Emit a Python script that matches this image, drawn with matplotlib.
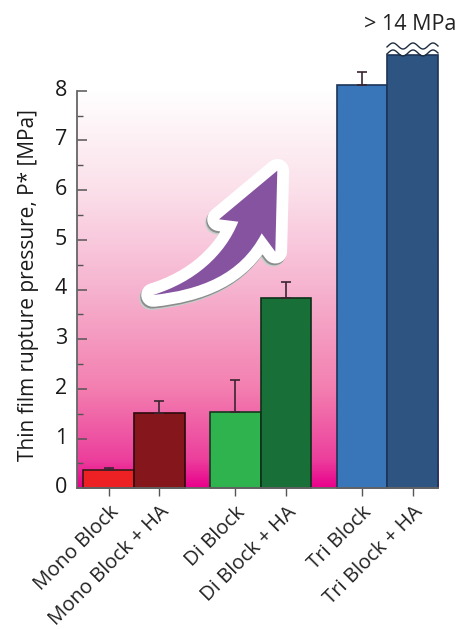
import numpy as np
import matplotlib
matplotlib.use("Agg")
import matplotlib.pyplot as plt
from matplotlib.colors import LinearSegmentedColormap
from matplotlib.patches import PathPatch
from matplotlib.path import Path
from matplotlib.transforms import Affine2D, ScaledTranslation

labels = ["Mono Block", "Mono Block + HA", "Di Block", "Di Block + HA", "Tri Block", "Tri Block + HA"]
positions = [0, 1, 2.5, 3.5, 5, 6]
values = [0.36, 1.52, 1.53, 3.82, 8.12, 8.72]
errors = [0.05, 0.23, 0.65, 0.34, 0.25, 0]
colors = ["#ed2024", "#84161c", "#2fb34f", "#187038", "#3875b9", "#2e5582"]
edges = ["#3a1a1a", "#2a0a0a", "#123a1e", "#0c3018", "#1c3558", "#1c3558"]

plt.rcParams["font.family"] = ["Open Sans", "DejaVu Sans"]
W, H = 458, 629
fig = plt.figure(figsize=(W / 100, H / 100), dpi=100)
ax = fig.add_axes([76.7 / W, 1 - 488.3 / H, (438 - 76.7) / W, (488.3 - 90.7) / H])

# background gradient, white at the top, magenta at the bottom
cmap = LinearSegmentedColormap.from_list("fade", [
    (0, "#e9008c"), (0.07, "#ec3f9c"), (0.25, "#f37fb0"),
    (0.5, "#f6b3cf"), (0.75, "#fbe0ea"), (1, "#ffffff")])
grad = np.linspace(1, 0, 256).reshape(-1, 1)
ax.imshow(grad, aspect="auto", cmap=cmap, extent=[-0.63, 6.5, 0, 8], zorder=0)

ax.bar(positions, values, width=1, color=colors, edgecolor=edges, linewidth=1.2, zorder=2, clip_on=False)
for p, v, e in zip(positions, values, errors):
    if e > 0:
        parts = ax.errorbar(p, v, yerr=[[0], [e]], color="#3a2530", lw=1.2, capsize=3.5, capthick=1.2, zorder=3)
        for art in list(parts[1]) + list(parts[2]):
            art.set_clip_on(False)

ax.set_xlim(-0.63, 6.5)
ax.set_ylim(0, 8)
ax.set_yticks(range(9))
ax.set_yticks(np.arange(0.5, 8, 1), minor=True)
ax.tick_params(axis="y", which="major", direction="in", length=7, width=1.1, color="#555555", labelsize=15.5, pad=7, labelcolor="#1a1a1a")
ax.tick_params(axis="y", which="minor", direction="in", length=4, width=1.0, color="#555555")
# y labels sit a little above their ticks
for t in ax.get_yticklabels():
    t.set_transform(t.get_transform() + ScaledTranslation(0, 3 / 100, fig.dpi_scale_trans))
ax.set_xticks(positions)
ax.set_xticklabels(labels, rotation=45, ha="right", va="top", rotation_mode="anchor", fontsize=14.6, color="#222222")
ax.tick_params(axis="x", direction="out", length=6, width=1.0, color="#555555", pad=4)
ax.set_ylabel("Thin film rupture pressure, P* [MPa]", fontsize=15, color="#1a1a1a", labelpad=11)
ax.yaxis.label.set_y(0.51)
for s in ["top", "right"]:
    ax.spines[s].set_visible(False)
for s in ["left", "bottom"]:
    ax.spines[s].set_color("#666666")
    ax.spines[s].set_linewidth(1.3)

# axis break on the last bar, drawn in pixels
px = Affine2D().scale(1, -1).translate(0, H)
wx = np.linspace(387, 438, 120)
low = 53 - 3 * np.cos((wx - 393) / 20 * 2 * np.pi)
fig.add_artist(plt.Polygon(np.r_[np.c_[wx, low - 0.8], [[439, 30], [386, 30]]], closed=True, fc="white", ec="none", transform=px, zorder=4))
fig.add_artist(plt.Line2D(wx, low, color="#1d2c3f", lw=1.0, transform=px, zorder=5))
fig.add_artist(plt.Line2D(wx, low - 7, color="#1d2c3f", lw=1.0, transform=px, zorder=5))
fig.text(410.5 / W, 1 - 25 / H, "> 14 MPa", fontsize=15.5, color="#222222", ha="center", va="center")

# big arrow, in pixels
verts = [(277.3, 170.7), (275.3, 251.7), (261.7, 233.3),
         (240, 275), (200, 290), (153, 295),
         (195, 282), (225, 255), (238.3, 221.7),
         (219, 219.3), (277.3, 170.7)]
codes = [Path.MOVETO, Path.LINETO, Path.LINETO,
         Path.CURVE4, Path.CURVE4, Path.CURVE4,
         Path.CURVE4, Path.CURVE4, Path.CURVE4,
         Path.LINETO, Path.CLOSEPOLY]
arrow = Path(verts, codes)
fig.add_artist(PathPatch(arrow, fc="#c4cfcc", ec="#c4cfcc", lw=17, joinstyle="round", transform=Affine2D().translate(-2, 3.2) + px, zorder=1.4))
fig.add_artist(PathPatch(arrow, fc="#8c8c8c", ec="#8c8c8c", lw=17, joinstyle="round", transform=Affine2D().translate(-1, 1.8) + px, zorder=1.5))
fig.add_artist(PathPatch(arrow, fc="white", ec="white", lw=17, joinstyle="round", transform=px, zorder=1.6))
fig.add_artist(PathPatch(arrow, fc="#8553a0", ec="none", transform=px, zorder=1.7))

fig.savefig("out.png", dpi=100)
